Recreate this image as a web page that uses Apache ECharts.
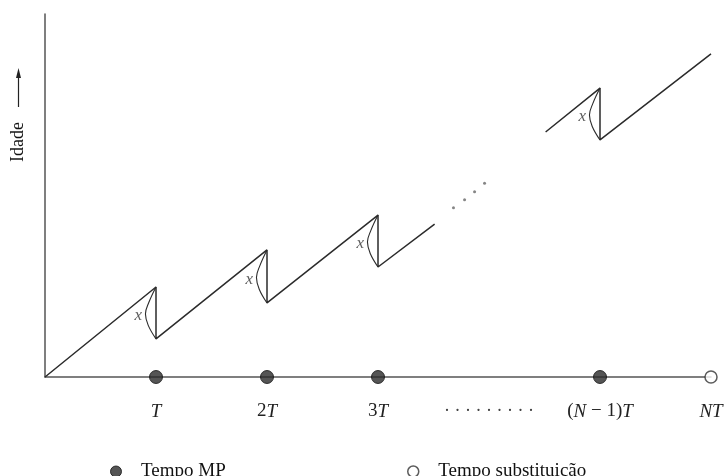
<!DOCTYPE html>
<html>
<head>
<meta charset="utf-8">
<script src="https://cdn.jsdelivr.net/npm/echarts@6/dist/echarts.min.js"></script>
<style>html,body{margin:0;padding:0;background:#fff}#c{width:728px;height:476px}</style>
</head>
<body>
<div id="c"></div>
<script>
// x in units of T, y in arbitrary "age" units
const tickLabels = ['', '{i|T}', '{u|2}{i|T}', '{u|3}{i|T}', '{d|· · · · · · · · ·}', '{u|(}{i|N}{u| − 1)}{i|T}', '{i|NT}'];
const sawLeft = [[0, 0], [1, 24.8], [1, 10.5], [2, 35], [2, 20.4], [3, 44.6], [3, 30.3], [3.51, 42.1]];
const sawRight = [[4.51, 67.5], [5, 79.6], [5, 65.3], [6, 89]];
const gapDots = [[3.68, 46.6], [3.78, 48.8], [3.87, 51], [3.96, 53.4]];
const mpTimes = [1, 2, 3, 5];
const mpPeaks = [24.8, 35, 44.6, 79.6];
const mpLows = [10.5, 20.4, 30.3, 65.3];
const replaceTimes = [6];

const ink = '#2b2b2b';
const serif = 'Liberation Serif';

const arcSeries = mpTimes.map((k, j) => {
  const p = mpPeaks[j], b = mpLows[j], d = p - b;
  return {
    type: 'line', smooth: 0.4, symbol: 'none', silent: true, clip: false,
    lineStyle: {color: ink, width: 1.1},
    data: [[k, p], [k - 0.065, p - 0.3 * d], [k - 0.095, p - 0.52 * d], [k - 0.07, p - 0.74 * d], [k, b]]
  };
});

const xLabels = mpTimes.map((k, j) => [k - 0.16, (mpPeaks[j] + mpLows[j]) / 2 - 0.8]);

const chart = echarts.init(document.getElementById('c'));
chart.setOption({
  animation: false,
  backgroundColor: '#fff',
  grid: {left: 45, right: 17, top: 14, bottom: 99, containLabel: false},
  xAxis: {
    type: 'value', min: 0, max: 6, interval: 1,
    axisLine: {show: true, lineStyle: {color: '#555', width: 1.5}},
    axisTick: {show: false}, splitLine: {show: false},
    axisLabel: {
      margin: 25, showMinLabel: true, showMaxLabel: true,
      formatter: v => tickLabels[Math.round(v)] || '',
      rich: {
        i: {fontFamily: serif, fontStyle: 'italic', fontSize: 19, color: '#222'},
        u: {fontFamily: serif, fontSize: 19, color: '#222'},
        d: {fontFamily: serif, fontSize: 18, color: '#444'}
      }
    }
  },
  yAxis: {
    type: 'value', min: 0, max: 100,
    axisLine: {show: true, lineStyle: {color: '#555', width: 1.5}},
    axisTick: {show: false}, splitLine: {show: false}, axisLabel: {show: false}
  },
  legend: [
    {left: 105, top: 457, itemWidth: 40, itemHeight: 11, icon: 'circle',
     textStyle: {fontFamily: serif, fontSize: 19, color: '#111'},
     data: [{name: 'Tempo MP', itemStyle: {color: ink, borderColor: '#111', borderWidth: 1}}]},
    {left: 402, top: 457, itemWidth: 40, itemHeight: 11, icon: 'circle',
     textStyle: {fontFamily: serif, fontSize: 19, color: '#111'},
     data: [{name: 'Tempo substituição', itemStyle: {color: '#fff', borderColor: '#333', borderWidth: 1.5}}]}
  ],
  graphic: [
    {type: 'text', x: 18, y: 142, rotation: Math.PI / 2,
     style: {text: 'Idade', font: '18px "Liberation Serif"', fill: '#111', align: 'center', verticalAlign: 'middle'}},
    {type: 'line', shape: {x1: 18.5, y1: 107, x2: 18.5, y2: 74}, style: {stroke: '#222', lineWidth: 1.2}},
    {type: 'polygon', shape: {points: [[16, 78], [18.5, 68], [21, 78]]}, style: {fill: '#222'}}
  ],
  series: [
    {type: 'line', symbol: 'none', silent: true, clip: false, data: sawLeft,
     lineStyle: {color: ink, width: 1.5}},
    {type: 'line', symbol: 'none', silent: true, clip: false, data: sawRight,
     lineStyle: {color: ink, width: 1.5}},
    {type: 'scatter', symbolSize: 3, silent: true, clip: false, data: gapDots,
     itemStyle: {color: '#666'}},
    ...arcSeries,
    {type: 'scatter', symbolSize: 0, silent: true, clip: false, data: xLabels,
     label: {show: true, position: 'inside', formatter: 'x', fontFamily: serif, fontStyle: 'italic', fontSize: 17, color: '#333'}},
    {name: 'Tempo MP', type: 'scatter', symbol: 'circle', symbolSize: 13, clip: false, z: 5,
     data: mpTimes.map(k => [k, 0]),
     itemStyle: {color: ink, borderColor: '#111', borderWidth: 1}},
    {name: 'Tempo substituição', type: 'scatter', symbol: 'circle', symbolSize: 12, clip: false, z: 5,
     data: replaceTimes.map(k => [k, 0]),
     itemStyle: {color: '#fff', borderColor: '#333', borderWidth: 1.5}}
  ]
});
</script>
</body>
</html>
